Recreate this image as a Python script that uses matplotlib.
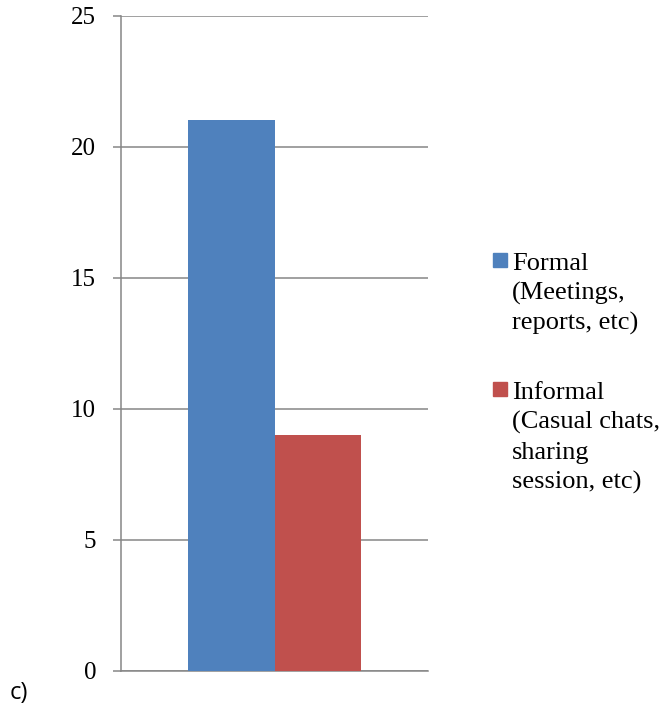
import matplotlib.pyplot as plt
from matplotlib.patches import Rectangle

# survey counts by communication channel
series = ['Formal\n(Meetings,\nreports, etc)', 'Informal\n(Casual chats,\nsharing\nsession, etc)']
values = [21, 9]
colors = ['#4F81BD', '#C0504D']
yticks = [0, 5, 10, 15, 20, 25]

W, H = 661, 705
fig = plt.figure(figsize=(W / 100, H / 100), dpi=100)
ax = fig.add_axes([121 / W, 1 - 670.7 / H, 307 / W, 655.2 / H])

grey = '#868686'
bw = 0.283
offsets = [-bw / 2, bw / 2]
for off, v, c in zip(offsets, values, colors):
    ax.bar(off, v, width=bw, color=c, zorder=3)

ax.set_xlim(-0.5, 0.5)
ax.set_ylim(0, 25)
ax.set_yticks(yticks)
ax.set_xticks([])
ax.yaxis.grid(True, color=grey, linewidth=1.1, zorder=0)
ax.set_axisbelow(True)
for s in ['top', 'right']:
    ax.spines[s].set_visible(False)
for s in ['left', 'bottom']:
    ax.spines[s].set_color(grey)
    ax.spines[s].set_linewidth(1.1)
ax.tick_params(axis='y', length=6, width=1.1, color=grey, pad=12,
               labelsize=18, labelfontfamily='Liberation Serif')

# legend drawn by hand: swatch at the first line, 30px between lines
baselines = [270, 399]
for lab, c, b in zip(series, colors, baselines):
    fig.add_artist(Rectangle((493 / W, 1 - (b - 3) / H), 14 / W, 14 / H,
                             color=c, transform=fig.transFigure))
    for i, line in enumerate(lab.split('\n')):
        fig.text(512 / W, 1 - (b + 30 * i) / H, line, ha='left', va='baseline',
                 fontsize=19, family='Liberation Serif')

fig.text(10 / W, 1 - 699 / H, 'c)', ha='left', va='baseline', fontsize=17,
         family='Open Sans')

fig.savefig('out.png', dpi=100)
